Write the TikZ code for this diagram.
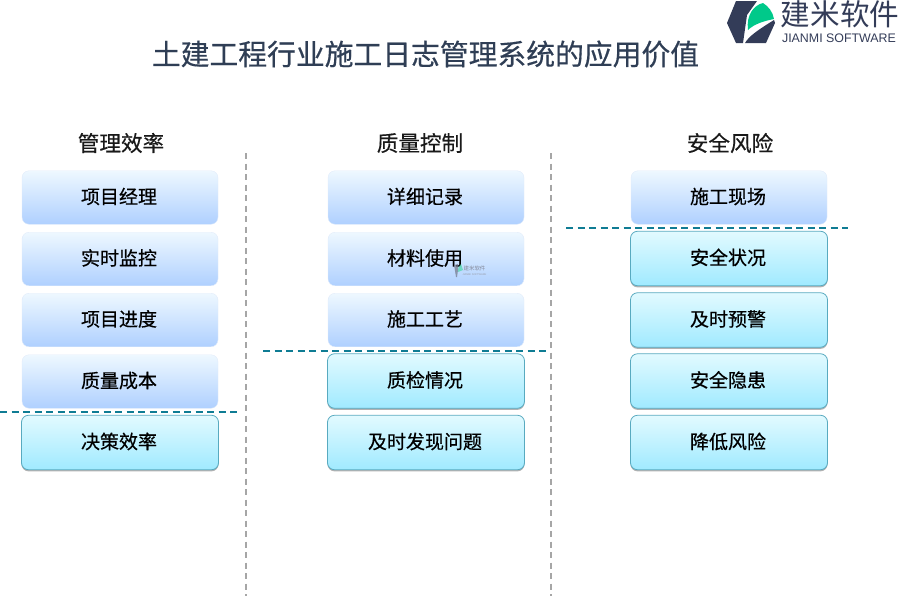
\documentclass[tikz,border=0pt]{standalone}
\usepackage{fontspec}
\setmainfont{Liberation Sans}
\newfontfamily\cjk{Noto Sans CJK SC}
\newfontfamily\cjkm[FakeBold=0.5]{Noto Sans CJK SC}
\usetikzlibrary{shadows}
\definecolor{titlec}{HTML}{2F3E55}
\definecolor{logod}{HTML}{333C58}
\definecolor{logog}{HTML}{00C98A}
\definecolor{teald}{HTML}{0F7C94}
\definecolor{greyd}{HTML}{A6A6A6}
\tikzset{
 softbox/.style={rounded corners=7pt,minimum width=196pt,minimum height=53.5pt,inner sep=0pt,
   text height=16pt,text depth=3.6pt,execute at end node=\hspace{2pt},
   top color={rgb,255:red,238;green,248;blue,255},bottom color={rgb,255:red,175;green,208;blue,255},
   draw={rgb,255:red,225;green,235;blue,250},line width=.4pt,
   font=\cjkm\fontsize{19}{19}\selectfont,text=black},
 cyanbox/.style={rounded corners=7pt,minimum width=197pt,minimum height=54.5pt,inner sep=0pt,
   text height=16pt,text depth=3.6pt,execute at end node=\hspace{2pt},
   top color={rgb,255:red,226;green,250;blue,255},bottom color={rgb,255:red,160;green,234;blue,255},
   draw={rgb,255:red,88;green,170;blue,192},line width=.8pt,
   drop shadow={shadow xshift=0pt,shadow yshift=-1.6pt,opacity=.3,fill=black},
   font=\cjkm\fontsize{19}{19}\selectfont,text=black},
 header/.style={font=\cjkm\fontsize{21.6}{22}\selectfont,text=black!90},
 divider/.style={greyd,line width=1.6pt,dash pattern=on 6pt off 4.5pt},
 tealdash/.style={teald,line width=1.3pt,dash pattern=on 7pt off 4.5pt},
}
\begin{document}
\begin{tikzpicture}[x=1pt,y=-1pt]
\useasboundingbox (0,0) rectangle (900,600);
\node[font=\cjkm\fontsize{28.8}{29}\selectfont,text=titlec] (title) at (425.5,54) {土建工程行业施工日志管理系统的应用价值};
% logo
\fill[logod] (736,1) -- (757,1) -- (747,15) -- (743,43) -- (736,43) -- (727,23) -- cycle;
\fill[logod] (745,43) .. controls (749,36) and (758,30) .. (774,20) -- (775,23) -- (766,43) -- cycle;
\fill[logog] (748,30) .. controls (746,15) and (754,5) .. (763,3) .. controls (768,6) and (773,12) .. (774,19) .. controls (764,21) and (754,24) .. (748,30) -- cycle;
\node[font=\cjk\fontsize{29.6}{30}\selectfont,text=logod,inner sep=0pt] (logotext) at (840,14) {建米软件};
\node[font=\fontsize{12.4}{13}\selectfont,text=logod,inner sep=0pt] (logosub) at (839,38) {JIANMI SOFTWARE};
% headers
\node[header] (h1) at (121,143) {管理效率};
\node[header] (h2) at (420,143) {质量控制};
\node[header] (h3) at (730,143) {安全风险};
% column 1
\node[softbox] (a1) at (120,197.5) {项目经理};
\node[softbox] (a2) at (120,259) {实时监控};
\node[softbox] (a3) at (120,320) {项目进度};
\node[softbox] (a4) at (120,381.5) {质量成本};
\node[cyanbox] (a5) at (120,442.5) {决策效率};
% column 2
\node[softbox] (b1) at (426,197.5) {详细记录};
\node[softbox] (b2) at (426,259) {材料使用};
\node[softbox] (b3) at (426,320) {施工工艺};
\node[cyanbox] (b4) at (426,381) {质检情况};
\node[cyanbox] (b5) at (426,442.5) {及时发现问题};
% column 3
\node[softbox] (c1) at (729,197.5) {施工现场};
\node[cyanbox] (c2) at (729,258.5) {安全状况};
\node[cyanbox] (c3) at (729,320) {及时预警};
\node[cyanbox] (c4) at (729,381) {安全隐患};
\node[cyanbox] (c5) at (729,442.5) {降低风险};
% watermark
\fill[logod!70,opacity=.7] (454,265) -- (458,264) -- (458,270) -- (457,277) -- (456,277) -- cycle;
\fill[logog!70,opacity=.7] (458,272) .. controls (458,268) and (459,265) .. (461,264) -- (463,270) -- cycle;
\node[font=\cjk\fontsize{5.4}{5}\selectfont,text=logod!60,inner sep=0pt] (wm) at (474.5,268) {建米软件};
\node[font=\fontsize{2.6}{3}\selectfont,text=logod!50,inner sep=0pt] (wmsub) at (474.5,275) {JIANMI SOFTWARE};
% dividers
\coordinate (d1s) at (246,153); \coordinate (d1e) at (246,596);
\coordinate (d2s) at (551,153); \coordinate (d2e) at (551,596);
\draw[divider] (d1s) -- (d1e);
\draw[divider] (d2s) -- (d2e);
\coordinate (t1s) at (0,412); \coordinate (t1e) at (241,412);
\coordinate (t2s) at (263,351); \coordinate (t2e) at (546,351);
\coordinate (t3s) at (566,228); \coordinate (t3e) at (848,228);
\draw[tealdash] (t1s) -- (t1e);
\draw[tealdash] (t2s) -- (t2e);
\draw[tealdash] (t3s) -- (t3e);
\end{tikzpicture}
\end{document}
